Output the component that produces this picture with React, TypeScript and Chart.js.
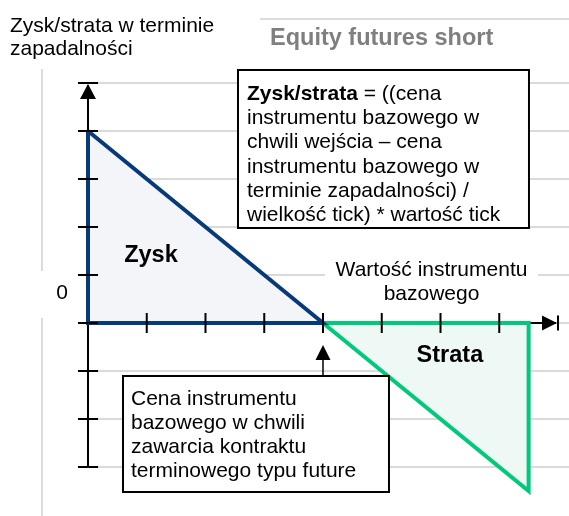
import React, { useEffect, useRef } from "react";
import { Chart, registerables } from "chart.js";

Chart.register(...registerables);

// ---- data (diagram units: x = underlying value steps, y = P/L steps) ----
const ENTRY_PRICE = 4;
const X_TICKS = [1, 2, 3, 4, 5, 6, 7, 8];
const Y_TICKS = [-3, -2, -1, 0, 1, 2, 3, 4, 5];
const Y_GRID = [-3, -2, -1, 0, 1, 2, 3, 4, 5];
const PROFIT_X = [0, 0, 4, 0];
const PROFIT_Y = [4, 0, 0, 4];
const LOSS_X = [4, 7.5, 7.5, 4];
const LOSS_Y = [0, 0, -3.5, 0];

// ---- texts ----
const TITLE = "Equity futures short";
const Y_TITLE_LINES = ["Zysk/strata w terminie", "zapadalności"];
const X_TITLE_LINES = ["Wartość instrumentu", "bazowego"];
const ZERO_LABEL = "0";
const PROFIT_LABEL = "Zysk";
const LOSS_LABEL = "Strata";
const FORMULA_BOLD = "Zysk/strata";
const FORMULA_LINES = [
  " = ((cena",
  "instrumentu bazowego w",
  "chwili wejścia – cena",
  "instrumentu bazowego w",
  "terminie zapadalności) /",
  "wielkość tick) * wartość tick",
];
const ENTRY_LINES = [
  "Cena instrumentu",
  "bazowego w chwili",
  "zawarcia kontraktu",
  "terminowego typu future",
];

// ---- layout (in diagram units) ----
const X_MIN = -0.1702;
const X_MAX = 8.1872;
const Y_MIN = -4.0208;
const Y_MAX = 6.3333;
const FRAME_LEFT = -0.783;
const FRAME_TOP = 6.3333;
const TITLE_BG = { x2: 2.93, y2: 5.292 };
const Y_TITLE_POS = { x: -1.328, y: 6.0625, y2: 5.573 };
const TITLE_POS = { x: 3.098, y: 5.79 };
const FORMULA_BOX = { x1: 2.553, x2: 7.506, y1: 5.271, y2: 1.979, tx: 2.706, ty: 4.646 };
const ENTRY_BOX = { x1: 0.596, x2: 5.123, y1: -1.104, y2: -3.521, tx: 0.732, ty: -1.708 };
const ARROW_TIP_Y = -0.458;
const X_TITLE_POS = { x: 5.847, y: 0.979, y2: 0.479, bx1: 4.034, bx2: 7.66, by1: 1.396, by2: 0.3125 };
const ZERO_POS = { x: -0.4426, y: 0.5, bx1: -0.851, bx2: -0.204, by1: 1.083, by2: 0.104 };
const PROFIT_POS = { x: 1.072, y: 1.271 };
const LOSS_POS = { x: 6.16, y: -0.8125 };

const FONT = '"Liberation Sans", Arial, sans-serif';

const toPts = (xs: number[], ys: number[]) => xs.map((x, i) => ({ x, y: ys[i] }));

const diagramPlugin = {
  id: "diagram",
  beforeDatasetsDraw(chart: any) {
    const { ctx } = chart;
    const sx = chart.scales.x, sy = chart.scales.y;
    const X = (v: number) => sx.getPixelForValue(v);
    const Y = (v: number) => sy.getPixelForValue(v);
    ctx.save();
    // frame
    ctx.strokeStyle = "#dcdcdc";
    ctx.lineWidth = 2;
    ctx.beginPath();
    ctx.moveTo(X(FRAME_LEFT), Y(FRAME_TOP));
    ctx.lineTo(chart.width, Y(FRAME_TOP));
    ctx.moveTo(X(FRAME_LEFT), Y(FRAME_TOP));
    ctx.lineTo(X(FRAME_LEFT), chart.height);
    ctx.stroke();
    // axes lines
    ctx.strokeStyle = "#000";
    ctx.lineWidth = 2;
    ctx.beginPath();
    ctx.moveTo(X(0), Y(Y_TICKS[0]));
    ctx.lineTo(X(0), Y(Y_TICKS[Y_TICKS.length - 1]) + 2);
    ctx.moveTo(X(0) - 10, Y(0));
    ctx.lineTo(X(X_TICKS[X_TICKS.length - 1]) - 2, Y(0));
    ctx.stroke();
    ctx.restore();
  },
  afterDatasetsDraw(chart: any) {
    const { ctx } = chart;
    const sx = chart.scales.x, sy = chart.scales.y;
    const X = (v: number) => sx.getPixelForValue(v);
    const Y = (v: number) => sy.getPixelForValue(v);
    ctx.save();
    ctx.strokeStyle = "#000";
    ctx.fillStyle = "#000";
    ctx.lineWidth = 2;
    // y ticks
    ctx.beginPath();
    Y_TICKS.forEach((t) => {
      ctx.moveTo(X(0) - 10, Y(t));
      ctx.lineTo(X(0) + 10, Y(t));
    });
    // x ticks
    X_TICKS.forEach((t, i) => {
      const h = i === X_TICKS.length - 1 ? 7.5 : 10;
      ctx.moveTo(X(t), Y(0) - h);
      ctx.lineTo(X(t), Y(0) + h);
    });
    ctx.stroke();
    // y arrow head
    const yTop = Y(Y_TICKS[Y_TICKS.length - 1]) + 1;
    ctx.beginPath();
    ctx.moveTo(X(0), yTop);
    ctx.lineTo(X(0) - 8, yTop + 15);
    ctx.lineTo(X(0) + 8, yTop + 15);
    ctx.closePath();
    ctx.fill();
    // x arrow head
    const xEnd = X(X_TICKS[X_TICKS.length - 1]) - 1;
    ctx.beginPath();
    ctx.moveTo(xEnd, Y(0));
    ctx.lineTo(xEnd - 15, Y(0) - 7.5);
    ctx.lineTo(xEnd - 15, Y(0) + 7.5);
    ctx.closePath();
    ctx.fill();
    // entry price arrow
    const ax = X(ENTRY_PRICE);
    const tip = Y(ARROW_TIP_Y);
    ctx.lineWidth = 1.5;
    ctx.beginPath();
    ctx.moveTo(ax, Y(ENTRY_BOX.y1));
    ctx.lineTo(ax, tip + 10);
    ctx.stroke();
    ctx.beginPath();
    ctx.moveTo(ax, tip);
    ctx.lineTo(ax - 7.5, tip + 15);
    ctx.lineTo(ax + 7.5, tip + 15);
    ctx.closePath();
    ctx.fill();

    // white backgrounds
    ctx.fillStyle = "#fff";
    ctx.fillRect(0, 0, X(TITLE_BG.x2), Y(TITLE_BG.y2));
    ctx.fillRect(X(X_TITLE_POS.bx1), Y(X_TITLE_POS.by1), X(X_TITLE_POS.bx2) - X(X_TITLE_POS.bx1), Y(X_TITLE_POS.by2) - Y(X_TITLE_POS.by1));
    ctx.fillRect(X(ZERO_POS.bx1), Y(ZERO_POS.by1), X(ZERO_POS.bx2) - X(ZERO_POS.bx1), Y(ZERO_POS.by2) - Y(ZERO_POS.by1));

    // boxes
    const box = (b: any) => {
      const x1 = X(b.x1), x2 = X(b.x2), y1 = Y(b.y1), y2 = Y(b.y2);
      ctx.fillStyle = "#fff";
      ctx.fillRect(x1, y1, x2 - x1, y2 - y1);
      ctx.strokeStyle = "#000";
      ctx.lineWidth = 2;
      ctx.strokeRect(x1, y1, x2 - x1, y2 - y1);
    };
    box(FORMULA_BOX);
    box(ENTRY_BOX);

    ctx.textBaseline = "alphabetic";
    ctx.fillStyle = "#000";
    // formula text
    ctx.save();
    ctx.beginPath();
    ctx.rect(X(FORMULA_BOX.x1), Y(FORMULA_BOX.y1), X(FORMULA_BOX.x2) - X(FORMULA_BOX.x1), Y(FORMULA_BOX.y2) - Y(FORMULA_BOX.y1) - 1);
    ctx.clip();
    ctx.textAlign = "left";
    const fx = X(FORMULA_BOX.tx), fy = Y(FORMULA_BOX.ty);
    ctx.font = `bold 21px ${FONT}`;
    ctx.fillText(FORMULA_BOLD, fx, fy);
    const bw = ctx.measureText(FORMULA_BOLD).width;
    ctx.font = `21px ${FONT}`;
    FORMULA_LINES.forEach((l, i) => {
      ctx.fillText(l, i === 0 ? fx + bw : fx, fy + i * 24.2);
    });
    ctx.restore();

    ctx.textAlign = "left";
    ctx.font = `21px ${FONT}`;
    const ex = X(ENTRY_BOX.tx), ey = Y(ENTRY_BOX.ty);
    ENTRY_LINES.forEach((l, i) => ctx.fillText(l, ex, ey + i * 24));

    // y title
    ctx.fillText(Y_TITLE_LINES[0], X(Y_TITLE_POS.x), Y(Y_TITLE_POS.y));
    ctx.fillText(Y_TITLE_LINES[1], X(Y_TITLE_POS.x), Y(Y_TITLE_POS.y2));

    // x title
    ctx.textAlign = "center";
    ctx.fillText(X_TITLE_LINES[0], X(X_TITLE_POS.x), Y(X_TITLE_POS.y));
    ctx.fillText(X_TITLE_LINES[1], X(X_TITLE_POS.x), Y(X_TITLE_POS.y2));
    ctx.fillText(ZERO_LABEL, X(ZERO_POS.x), Y(ZERO_POS.y));

    ctx.font = `bold 23.5px ${FONT}`;
    ctx.fillText(PROFIT_LABEL, X(PROFIT_POS.x), Y(PROFIT_POS.y));
    ctx.fillText(LOSS_LABEL, X(LOSS_POS.x), Y(LOSS_POS.y));

    ctx.textAlign = "left";
    ctx.fillStyle = "#7f7f7f";
    ctx.fillText(TITLE, X(TITLE_POS.x), Y(TITLE_POS.y));
    ctx.restore();
  },
};

export default function App() {
  const ref = useRef<HTMLCanvasElement>(null);
  useEffect(() => {
    if (!ref.current) return;
    const chart = new Chart(ref.current, {
      type: "line",
      data: {
        datasets: [
          {
            data: toPts(PROFIT_X, PROFIT_Y),
            borderColor: "#073a78",
            backgroundColor: "#f4f5f9",
            borderWidth: 4,
            fill: "shape",
            pointRadius: 0,
            tension: 0,
            borderJoinStyle: "miter",
            borderCapStyle: "butt",
          },
          {
            data: toPts(LOSS_X, LOSS_Y),
            borderColor: "#00c97a",
            backgroundColor: "#eef8f4",
            borderWidth: 4,
            fill: "shape",
            pointRadius: 0,
            tension: 0,
            borderJoinStyle: "miter",
            borderCapStyle: "butt",
          },
        ],
      } as any,
      options: {
        animation: false,
        responsive: false,
        devicePixelRatio: 1,
        layout: { padding: { left: 78, top: 19, right: 0, bottom: 0 } },
        plugins: {
          legend: { display: false },
          tooltip: { enabled: false },
          title: { display: false },
        },
        scales: {
          x: { type: "linear", min: X_MIN, max: X_MAX, display: false },
          y: {
            type: "linear",
            min: Y_MIN,
            max: Y_MAX,
            display: true,
            ticks: { display: false },
            border: { display: false },
            grid: { color: "#dadada", lineWidth: 2, drawTicks: false },
            afterBuildTicks: (s: any) => {
              s.ticks = Y_GRID.map((v) => ({ value: v }));
            },
            afterFit: (s: any) => {
              s.width = 0;
            },
          },
        },
      } as any,
      plugins: [diagramPlugin],
    });
    return () => chart.destroy();
  }, []);
  return (
    <div style={{ position: "fixed", left: 0, top: 0, width: 569, height: 516, background: "#fff" }}>
      <canvas ref={ref} width={569} height={516} style={{ display: "block", width: 569, height: 516 }} />
    </div>
  );
}
